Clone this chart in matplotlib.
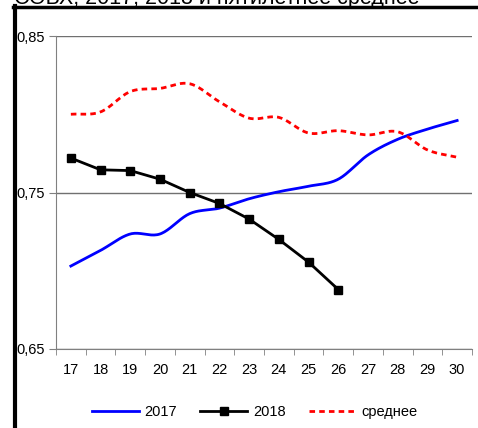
import numpy as np
import matplotlib
matplotlib.use('Agg')
import matplotlib.pyplot as plt
from matplotlib.lines import Line2D

plt.rcParams['font.family'] = ['Liberation Sans', 'DejaVu Sans']

weeks = [17, 18, 19, 20, 21, 22, 23, 24, 25, 26, 27, 28, 29, 30]
tick_labels = [str(w) for w in weeks]
vals_2017 = [0.703, 0.713, 0.7235, 0.7235, 0.7365, 0.740, 0.746, 0.7505, 0.754,
             0.7585, 0.774, 0.784, 0.7905, 0.796]
weeks_2018 = [17, 18, 19, 20, 21, 22, 23, 24, 25, 26]
vals_2018 = [0.772, 0.7645, 0.764, 0.7585, 0.750, 0.743, 0.733, 0.720, 0.7055, 0.688]
vals_mean = [0.800, 0.8015, 0.8145, 0.8165, 0.8195, 0.808, 0.7975, 0.798, 0.788,
             0.7895, 0.7868, 0.7888, 0.7772, 0.7725]


def smooth(x, y, n=20):
    '''catmull-rom curve through the points (like excel smoothed line)'''
    x = np.asarray(x, float)
    y = np.asarray(y, float)
    px = np.concatenate([[2 * x[0] - x[1]], x, [2 * x[-1] - x[-2]]])
    py = np.concatenate([[2 * y[0] - y[1]], y, [2 * y[-1] - y[-2]]])
    xs, ys = [], []
    t = np.linspace(0, 1, n, endpoint=False)
    for i in range(1, len(px) - 2):
        for p, out in ((px, xs), (py, ys)):
            p0, p1, p2, p3 = p[i - 1], p[i], p[i + 1], p[i + 2]
            out.extend(0.5 * (2 * p1 + (-p0 + p2) * t
                              + (2 * p0 - 5 * p1 + 4 * p2 - p3) * t ** 2
                              + (-p0 + 3 * p1 - 3 * p2 + p3) * t ** 3))
    xs.append(x[-1])
    ys.append(y[-1])
    return xs, ys


fig = plt.figure(figsize=(4.78, 4.28), dpi=100)
ax = fig.add_axes([56 / 478, 79 / 428, 416 / 478, 313 / 428])

sx, sy = smooth(weeks, vals_2017)
ax.plot(sx, sy, color='#0000ff', lw=2, zorder=3)
ax.plot(weeks_2018, vals_2018, color='black', lw=2, marker='s', ms=6, zorder=4)
sx, sy = smooth(weeks, vals_mean)
ax.plot(sx, sy, color='#ff0000', lw=2, ls=(0, (2, 1.5)), zorder=3)

ax.set_xlim(16.5, 30.5)
ax.set_ylim(0.65, 0.85)
ax.set_yticks([0.65, 0.75, 0.85])
ax.set_yticklabels(['0,65', '0,75', '0,85'], fontsize=10.5)
ax.set_xticks(weeks)
ax.set_xticklabels(tick_labels, fontsize=10.5)
ax.set_xticks(np.arange(16.5, 31, 1), minor=True)
ax.tick_params(axis='x', which='major', length=0, pad=10)
ax.tick_params(axis='x', which='minor', length=4, color='#808080')
ax.tick_params(axis='y', length=5, color='#808080', pad=3)
ax.grid(axis='y', color='#707070', lw=1)
for s in ['top', 'right']:
    ax.spines[s].set_visible(False)
for s in ['left', 'bottom']:
    ax.spines[s].set_color('#808080')

# frame and cut title
fig.add_artist(Line2D([14.5 / 478, 14.5 / 478], [0, 1 - 6 / 428], color='black', lw=3))
fig.add_artist(Line2D([13 / 478, 1], [1 - 6.5 / 428, 1 - 6.5 / 428], color='black', lw=2.5))
fig.text(14 / 478, 1 - 4 / 428, 'СОВХ, 2017, 2018 и пятилетнее среднее',
         fontsize=15.5, va='baseline')

handles = [Line2D([], [], color='#0000ff', lw=2),
           Line2D([], [], color='black', lw=2, marker='s', ms=6),
           Line2D([], [], color='#ff0000', lw=2, ls=(0, (2, 1.5)))]
fig.legend(handles, ['2017', '2018', 'среднее'], loc='center', ncol=3,
           bbox_to_anchor=(0.533, 1 - 412 / 428), frameon=False, fontsize=10.5,
           handlelength=3.2, columnspacing=1.6, handletextpad=0.4)

fig.savefig('out.png', dpi=100)
